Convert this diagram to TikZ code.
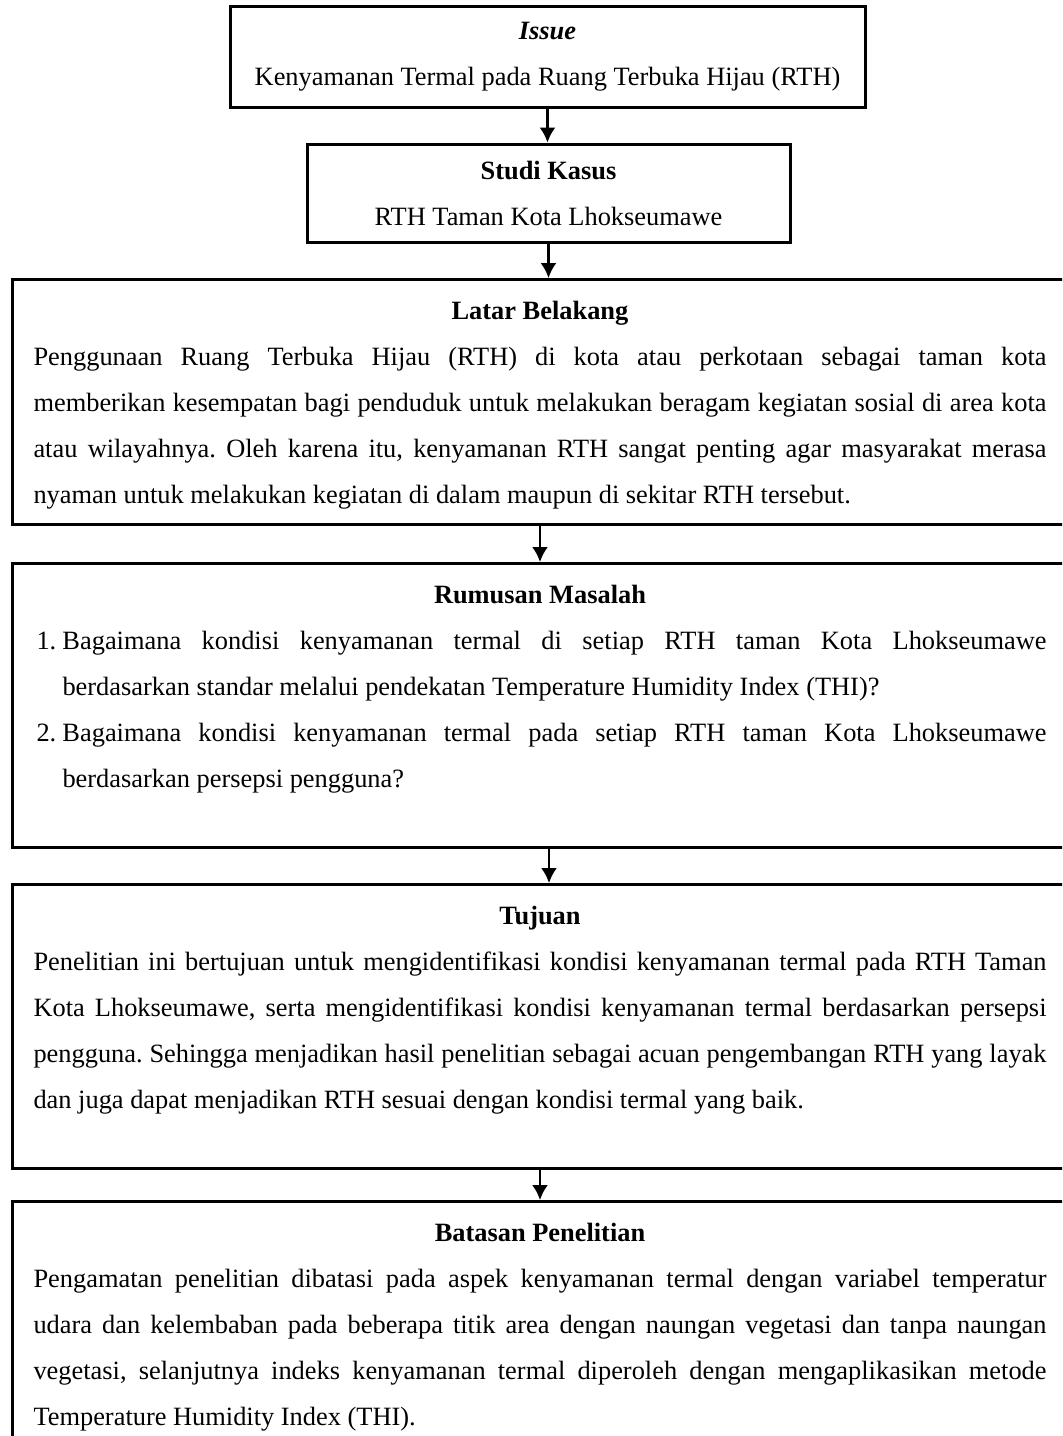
\documentclass[tikz,border=0pt]{standalone}
\usepackage{fontspec}
\setmainfont{Liberation Serif}
\usetikzlibrary{arrows.meta}
\setlength{\parindent}{0pt}
\hyphenpenalty=10000
\exhyphenpenalty=10000
\sloppy
\frenchspacing

\begin{document}
\begin{tikzpicture}[x=0.5pt, y=-0.5pt,
    txt/.style={font=\fontsize{13.2}{23}\selectfont},
    smallbox/.style={draw, line width=1.5pt, txt, align=center, inner sep=0pt},
    bigbox/.style={draw, line width=1.5pt, txt, anchor=north west, text width=506.5pt,
        inner xsep=10.5pt, inner ysep=3.75pt, align=justify},
    link/.style={-{Latex[length=7.5pt,width=8pt]}, line width=1.2pt}]
    \useasboundingbox (0,0) rectangle (1062,1436);
    \clip (0,0) rectangle (1062,1436);

    \node[smallbox, minimum width=317.5pt, minimum height=50.5pt] (A1) at (547.5,56.5)
        {\textbf{\textit{Issue}}\\Kenyamanan Termal pada Ruang Terbuka Hijau (RTH)};
    \node[smallbox, minimum width=241.5pt, minimum height=49pt] (A2) at (548.5,193)
        {\textbf{Studi Kasus}\\RTH Taman Kota Lhokseumawe};

    \node[bigbox] (B1) at (11,278) {\centerline{\strut\textbf{Latar Belakang}}\par
        Penggunaan Ruang Terbuka Hijau (RTH) di kota atau perkotaan sebagai taman kota\linebreak
        memberikan kesempatan bagi penduduk untuk melakukan beragam kegiatan sosial di area kota\linebreak
        atau wilayahnya. Oleh karena itu, kenyamanan RTH sangat penting agar masyarakat merasa\linebreak
        nyaman untuk melakukan kegiatan di dalam maupun di sekitar RTH tersebut.\strut};

    \node[bigbox] (B2) at (11,562) {\centerline{\strut\textbf{Rumusan Masalah}}\par
        \hangindent=14.5pt\hangafter=1\makebox[14.5pt][l]{\hspace{1.5pt}1.}Bagaimana kondisi kenyamanan termal di setiap RTH taman Kota Lhokseumawe\linebreak
        berdasarkan standar melalui pendekatan Temperature Humidity Index (THI)?\par
        \hangindent=14.5pt\hangafter=1\makebox[14.5pt][l]{\hspace{1.5pt}2.}Bagaimana kondisi kenyamanan termal pada setiap RTH taman Kota Lhokseumawe\linebreak
        berdasarkan persepsi pengguna?\par
        \vspace{-3.5pt}\strut};

    \node[bigbox] (B3) at (11,883) {\centerline{\strut\textbf{Tujuan}}\par
        Penelitian ini bertujuan untuk mengidentifikasi kondisi kenyamanan termal pada RTH Taman\linebreak
        Kota Lhokseumawe, serta mengidentifikasi kondisi kenyamanan termal berdasarkan persepsi\linebreak
        pengguna. Sehingga menjadikan hasil penelitian sebagai acuan pengembangan RTH yang layak\linebreak
        dan juga dapat menjadikan RTH sesuai dengan kondisi termal yang baik.\par
        \vspace{-3.5pt}\strut};

    \node[bigbox] (B4) at (11,1200) {\centerline{\strut\textbf{Batasan Penelitian}}\par
        Pengamatan penelitian dibatasi pada aspek kenyamanan termal dengan variabel temperatur\linebreak
        udara dan kelembaban pada beberapa titik area dengan naungan vegetasi dan tanpa naungan\linebreak
        vegetasi, selanjutnya indeks kenyamanan termal diperoleh dengan mengaplikasikan metode\linebreak
        Temperature Humidity Index (THI).\strut};

    \draw[link] (A1) -- (A1 |- A2.north);
    \draw[link] (A2) -- (A2 |- B1.north);
    \draw[link] (B1) -- (B2);
    \draw[link] ([xshift=4.5pt]B2.south) -- ([xshift=4.5pt]B3.north);
    \draw[link] (B3) -- (B4);
\end{tikzpicture}
\end{document}
